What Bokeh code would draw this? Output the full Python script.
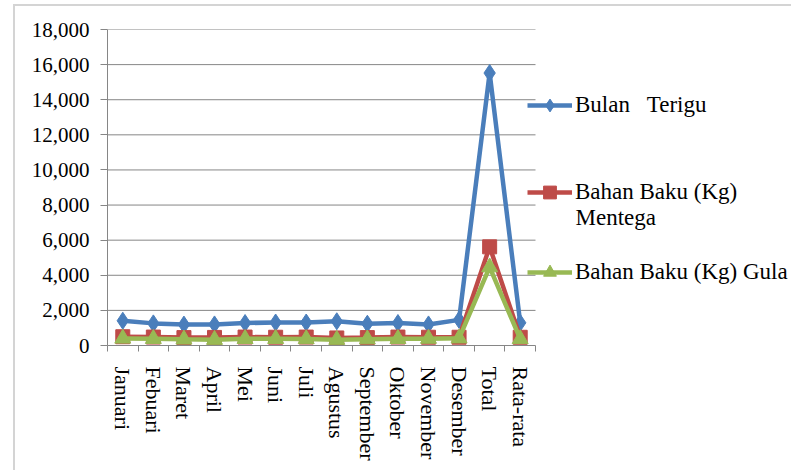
from bokeh.plotting import figure
from bokeh.models import (Range1d, FixedTicker, NumeralTickFormatter, Legend,
                          LegendItem, Label)
from bokeh.embed import file_html
from bokeh.resources import INLINE

categories = ["Januari", "Febuari", "Maret", "April", "Mei", "Juni", "Juli",
              "Agustus", "September", "Oktober", "November", "Desember",
              "Total", "Rata-rata"]

terigu = [1410, 1260, 1190, 1200, 1280, 1310, 1310, 1380, 1240, 1280, 1200,
          1460, 15520, 1293]
mentega = [500, 480, 450, 460, 480, 470, 480, 430, 450, 480, 470, 470,
           5620, 468]
gula = [400, 380, 350, 330, 380, 380, 370, 330, 360, 380, 390, 410,
        4460, 372]

y_ticks = list(range(0, 18001, 2000))

SERIF = "Liberation Serif"
GRID = "#868686"
BLUE = "#4a7ebb"
RED = "#be4b48"
GREEN = "#98b954"

n = len(categories)
xs = [i + 0.5 for i in range(n)]

# the frame runs to the right edge so the legend can sit beside the plot area;
# the category slots take the left 428 px of it
FIG_W, FIG_H = 778, 466
LEFT, TOP, BOTTOM = 92, 23, 127
frame_w = FIG_W - LEFT
x_end = n * frame_w / 428.0

p = figure(width=FIG_W, height=FIG_H, output_backend="svg", toolbar_location=None,
           x_range=Range1d(0, x_end), y_range=Range1d(0, 18000),
           min_border_left=LEFT, min_border_right=0, min_border_top=TOP,
           min_border_bottom=BOTTOM)
p.margin = (4, 0, 0, 13)
p.styles = {"border-top": "2px solid #d4d4d4", "border-left": "2px solid #d4d4d4"}
p.outline_line_color = None
p.background_fill_color = "white"
p.border_fill_color = "white"

# x axis: category names centred in each slot, tick marks on slot boundaries
xa = p.xaxis[0]
xa.bounds = (0, n)
xa.ticker = FixedTicker(ticks=xs, minor_ticks=list(range(n + 1)))
xa.major_label_overrides = {x: c for x, c in zip(xs, categories)}
xa.major_label_orientation = "vertical"
xa.major_tick_out = 0
xa.major_tick_in = 0
xa.minor_tick_out = 6
xa.minor_tick_in = 0
xa.minor_tick_line_color = GRID
xa.axis_line_color = GRID
xa.major_label_standoff = 15
xa.major_label_text_font = SERIF
xa.major_label_text_font_size = "22px"
xa.major_label_text_color = "black"

ya = p.yaxis[0]
ya.ticker = FixedTicker(ticks=y_ticks)
ya.formatter = NumeralTickFormatter(format="0,0")
ya.major_tick_out = 7
ya.major_tick_in = 0
ya.minor_tick_line_color = None
ya.axis_line_color = GRID
ya.major_tick_line_color = GRID
ya.major_label_standoff = 11
ya.major_label_text_font = SERIF
ya.major_label_text_font_size = "21px"
ya.major_label_text_color = "black"

p.xgrid.grid_line_color = None
p.ygrid.grid_line_color = None

# horizontal gridlines limited to the category slots
grid_y = y_ticks[1:]
p.segment(x0=[0] * len(grid_y), x1=[n] * len(grid_y), y0=grid_y, y1=grid_y,
          line_color=GRID, line_width=1)

# series
l1 = p.line(xs, terigu, line_color=BLUE, line_width=4.5)
m1 = p.scatter(xs, terigu, marker="diamond", size=17, fill_color=BLUE,
               line_color=BLUE)
l2 = p.line(xs, mentega, line_color=RED, line_width=4.5)
m2 = p.scatter(xs, mentega, marker="square", size=14, fill_color=RED,
               line_color=RED)
l3 = p.line(xs, gula, line_color=GREEN, line_width=4.5)
m3 = p.scatter(xs, gula, marker="triangle", size=16, fill_color=GREEN,
               line_color=GREEN)

# legend entries, one block each on the right
entries = [("Bulan   Terigu", [l1, m1], 224),
           ("Bahan Baku (Kg)", [l2, m2], 137),
           ("Bahan Baku (Kg) Gula", [l3, m3], 57)]
for text, rends, vy in entries:
    lg = Legend(items=[LegendItem(label=text, renderers=rends)],
                location=(420, vy), padding=0, margin=0, spacing=0,
                glyph_width=45, glyph_height=32, label_height=32,
                label_standoff=3, border_line_color=None,
                background_fill_alpha=0, label_text_font=SERIF,
                label_text_font_size="23px", label_text_color="black")
    p.add_layout(lg, "center")

p.add_layout(Label(x=468, y=128, x_units="screen", y_units="screen",
                   text="Mentega", text_font=SERIF, text_font_size="23px",
                   text_baseline="middle", text_color="black"))

open("out.html", "w").write(file_html(p, INLINE))
